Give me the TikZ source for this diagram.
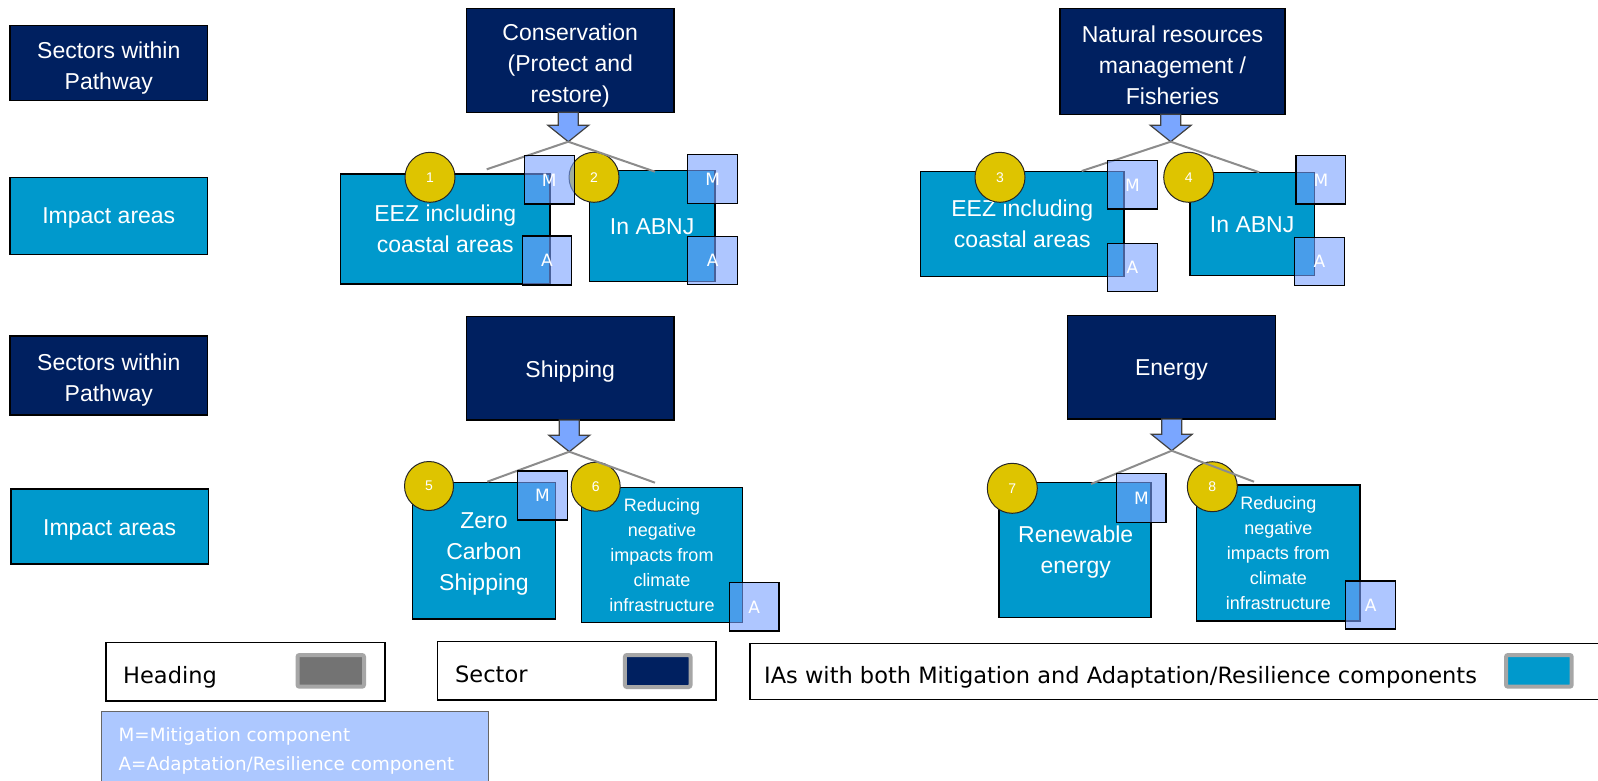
\documentclass[tikz,border=0pt]{standalone}
\usepackage{fontspec}
\setmainfont{Liberation Sans}
\newfontfamily\dvs{DejaVu Sans}
\usetikzlibrary{calc}
\definecolor{navy}{RGB}{0,32,96}
\definecolor{iablue}{RGB}{0,153,204}
\definecolor{mabl}{RGB}{120,160,255}
\definecolor{arrowbl}{RGB}{122,166,255}
\definecolor{circy}{RGB}{222,196,0}
\definecolor{legbl}{RGB}{173,200,255}
\definecolor{forkgray}{RGB}{140,140,140}
\definecolor{swgray}{RGB}{115,115,115}
\definecolor{swborder}{RGB}{166,166,166}
\tikzset{
  sectorbox/.style={draw=black, line width=1.5pt, fill=navy, text=white, inner sep=0pt, outer sep=0pt, align=center, font=\fontsize{23}{31}\selectfont},
  iabox/.style={draw=black, line width=1.5pt, fill=iablue, text=white, inner sep=0pt, outer sep=0pt, align=center, font=\fontsize{23}{31}\selectfont},
  iasmall/.style={iabox, font=\fontsize{18}{25}\selectfont},
  boxtext/.style={text=white, inner sep=0pt, align=center, font=\fontsize{23}{31}\selectfont},
  mabox/.style={draw=black, line width=1.5pt, fill=mabl, fill opacity=0.6, text opacity=1, text=white, inner sep=0pt, outer sep=0pt, font=\dvs\fontsize{17}{17}\selectfont},
  numcirc/.style={circle, draw=black!85, line width=1pt, fill=circy, minimum size=50pt, inner sep=0pt, text=white, font=\fontsize{14}{14}\selectfont},
  forkline/.style={draw=forkgray, line width=2pt},
  arrowsty/.style={draw=black!75, line width=1.2pt, fill=arrowbl, line join=miter},
  legbox/.style={draw=black, line width=1.5pt, fill=white, inner sep=0pt, outer sep=0pt},
  swatch/.style={draw=swborder, line width=4pt, rounded corners=2pt, inner sep=0pt},
  legtext/.style={anchor=base west, inner sep=0pt, text=black, font=\dvs\fontsize{22.5}{27}\selectfont},
  matext/.style={anchor=base west, inner sep=0pt, text=white, font=\dvs\fontsize{18.3}{22}\selectfont},
}
\newcommand{\blockarrow}[2]{%
  \draw[arrowsty] ($(#2 |- #1)+(-10,0)$) -- ($(#2)+(-10,-16.5)$) -- ($(#2)+(-20.5,-16.5)$) -- (#2)
    -- ($(#2)+(20.5,-16.5)$) -- ($(#2)+(10,-16.5)$) -- ($(#2 |- #1)+(10,0)$) -- cycle;}
\begin{document}
\begin{tikzpicture}[x=1pt, y=-1pt]
\useasboundingbox (0,0) rectangle (1598,780);

% left column
\node[sectorbox, minimum width=197.6pt, minimum height=75pt] (sec1) at (108.8,63.2) {};
\node[boxtext] (sec1t) at ($(sec1.center)+(0,5)$) {Sectors within\\Pathway};
\node[iabox, minimum width=197.6pt, minimum height=76.6pt] (imp1) at (108.8,216) {};
\node[boxtext] (imp1t) at ($(imp1.center)+(0,2)$) {Impact areas};
\node[sectorbox, minimum width=197.6pt, minimum height=79pt] (sec2) at (108.8,375.5) {};
\node[boxtext] (sec2t) at ($(sec2.center)+(0,4.5)$) {Sectors within\\Pathway};
\node[iabox, minimum width=197.3pt, minimum height=75pt] (imp2) at (109.6,526.5) {};
\node[boxtext] (imp2t) at ($(imp2.center)+(0,3)$) {Impact areas};

% sector boxes
\node[sectorbox, minimum width=207.5pt, minimum height=104pt] (cons) at (570.25,60.3) {};
\node[boxtext] (const) at ($(cons.center)+(0,5)$) {Conservation\\(Protect and\\restore)};
\node[sectorbox, minimum width=225pt, minimum height=106pt] (nat) at (1172.5,61.3) {};
\node[boxtext] (natt) at ($(nat.center)+(0,3.5)$) {Natural resources\\management /\\Fisheries};
\node[sectorbox, minimum width=207.5pt, minimum height=103.3pt] (ship) at (570.25,368.35) {};
\node[boxtext] (shipt) at ($(ship.center)+(0,3)$) {Shipping};
\node[sectorbox, minimum width=208.4pt, minimum height=103.3pt] (energy) at (1171.5,367.35) {};
\node[boxtext] (energyt) at ($(energy.center)+(0,3)$) {Energy};

% tips and fork ends
\coordinate (tip1) at (568.3,141.7);
\coordinate (tip2) at (1170.7,141.7);
\coordinate (tip3) at (569.3,451.7);
\coordinate (tip4) at (1171.7,450.7);
\coordinate (f1a) at (486.7,169.3);
\coordinate (f1b) at (655,171.7);
\coordinate (f2a) at (1081.7,171);
\coordinate (f2b) at (1259.3,172.3);
\coordinate (f3a) at (487.3,481.7);
\coordinate (f3b) at (655,482.7);
\coordinate (f4a) at (1091,484);
\coordinate (f4b) at (1254,481.7);

\blockarrow{cons.south}{tip1}
\blockarrow{nat.south}{tip2}
\blockarrow{ship.south}{tip3}
\blockarrow{energy.south}{tip4}

% impact area boxes
\node[iabox, minimum width=209.3pt, minimum height=110pt] (ia1) at (445.35,229) {EEZ including\\coastal areas};
\node[iabox, minimum width=125.7pt, minimum height=111pt] (ia2) at (652.15,226.2) {In ABNJ};
\node[iabox, minimum width=203.3pt, minimum height=105pt] (ia3) at (1022.35,224.2) {EEZ including\\coastal areas};
\node[iabox, minimum width=124.3pt, minimum height=103pt] (ia4) at (1252.15,224.2) {In ABNJ};
\node[iabox, minimum width=143.4pt, minimum height=136.3pt] (ia5) at (484,550.85) {};
\node[boxtext] (ia5t) at ($(ia5.center)+(0,3)$) {Zero\\Carbon\\Shipping};
\node[iasmall, minimum width=160.6pt, minimum height=134.6pt] (ia6) at (662,555) {Reducing\\negative\\impacts from\\climate\\infrastructure};
\node[iabox, minimum width=152pt, minimum height=134.6pt] (ia7) at (1075,550) {};
\node[boxtext] (ia7t) at ($(ia7.center)+(0.7,2)$) {Renewable\\energy};
\node[iasmall, minimum width=163.3pt, minimum height=136.3pt] (ia8) at (1278.35,553) {Reducing\\negative\\impacts from\\climate\\infrastructure};

% numbered circles
\node[numcirc] (c1) at (430,177.3) {1};
\node[numcirc] (c2) at (594,177.3) {2};
\node[numcirc] (c3) at (1000,177.3) {3};
\node[numcirc] (c4) at (1188.7,177.3) {4};
\node[numcirc, minimum size=49pt] (c5) at (429,486) {5};
\node[numcirc, minimum size=49pt] (c6) at (595.7,486.7) {6};
\node[numcirc] (c7) at (1012.3,488.3) {7};
\node[numcirc] (c8) at (1212.3,486.7) {8};

% fork lines
\draw[forkline] (tip1) -- (f1a);
\draw[forkline] (tip1) -- (f1b);
\draw[forkline] (tip2) -- (f2a);
\draw[forkline] (tip2) -- (f2b);
\draw[forkline] (tip3) -- (f3a);
\draw[forkline] (tip3) -- (f3b);
\draw[forkline] (tip4) -- (f4a);
\draw[forkline] (tip4) -- (f4b);

% M / A boxes
\node[mabox, minimum width=50pt, minimum height=48.3pt] (m1) at (549.3,179.85) {M};
\node[mabox, minimum width=49.4pt, minimum height=49pt] (a1) at (547,260.5) {A};
\node[mabox, minimum width=50pt, minimum height=49pt] (m2) at (712.7,178.8) {M};
\node[mabox, minimum width=50pt, minimum height=47.6pt] (a2) at (712.7,260.5) {A};
\node[mabox, minimum width=49.6pt, minimum height=48.3pt] (m3) at (1132.5,184.85) {M};
\node[mabox, minimum width=49.6pt, minimum height=48.4pt] (a3) at (1132.5,267.5) {A};
\node[mabox, minimum width=49.7pt, minimum height=48.3pt] (m4) at (1320.85,179.85) {M};
\node[mabox, minimum width=50pt, minimum height=48.4pt] (a4) at (1319.3,261.5) {A};
\node[mabox, minimum width=49.6pt, minimum height=49pt] (m5) at (542.5,495.5) {M};
\node[mabox, minimum width=49.7pt, minimum height=48.3pt] (a6) at (754.15,606.85) {A};
\node[mabox, minimum width=49.3pt, minimum height=49pt] (m7) at (1141.35,497.8) {M};
\node[mabox, minimum width=50pt, minimum height=48pt] (a8) at (1370.7,605) {A};

% legend
\node[legbox, minimum width=279.2pt, minimum height=58.7pt] (legH) at (245.6,671.65) {};
\node[swatch, fill=swgray, minimum width=66.5pt, minimum height=31.7pt] (swH) at (330.75,670.85) {};
\node[legtext] (tH) at (123,683.3) {Heading};
\node[legbox, minimum width=278.2pt, minimum height=58.3pt] (legS) at (576.7,670.85) {};
\node[swatch, fill=navy, minimum width=65.6pt, minimum height=32pt] (swS) at (657.7,671) {};
\node[legtext] (tS) at (455,682.7) {Sector};
\node[legbox, minimum width=852pt, minimum height=56pt] (legI) at (1176,671.3) {};
\node[swatch, fill=iablue, minimum width=65.7pt, minimum height=31.7pt] (swI) at (1538.85,670.85) {};
\node[legtext] (tI) at (764,683.3) {IAs with both Mitigation and Adaptation/Resilience components};
\node[draw=black!60, line width=1pt, fill=legbl, inner sep=0pt, minimum width=386.5pt, minimum height=71pt] (legMA) at (294.75,747.2) {};
\node[matext] (tM) at (118.5,741.7) {M=Mitigation component};
\node[matext] (tA) at (118.5,770) {A=Adaptation/Resilience component};
\end{tikzpicture}
\end{document}
